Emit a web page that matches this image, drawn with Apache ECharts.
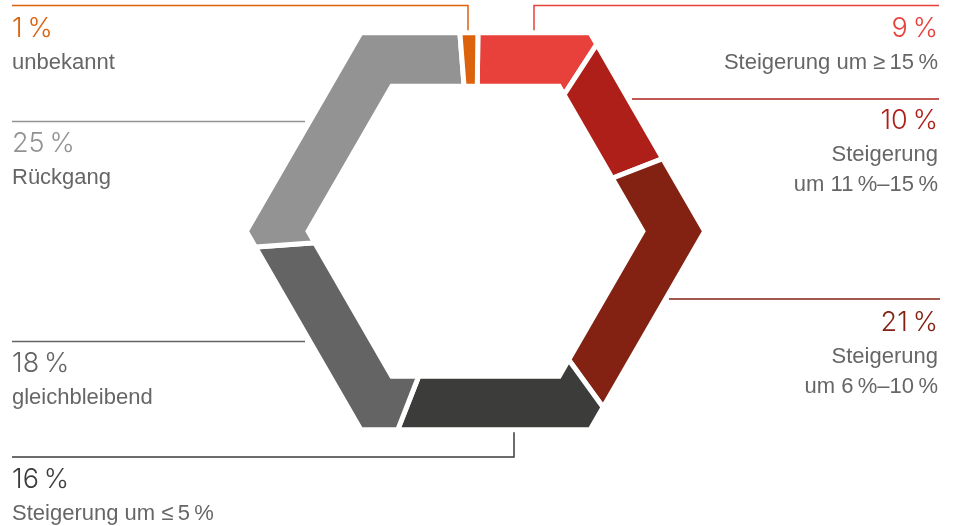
<!DOCTYPE html>
<html>
<head>
<meta charset="utf-8">
<script src="https://cdn.jsdelivr.net/npm/echarts@6/dist/echarts.min.js"></script>
<style>
  html, body { margin: 0; padding: 0; background: #fff; }
  #chart { width: 956px; height: 526px; }
</style>
</head>
<body>
<div id="chart"></div>
<script>
// clockwise from 12 o'clock
const categories = [
  'Steigerung um ≥\u200915\u2009%',
  'Steigerung\num 11\u2009%–15\u2009%',
  'Steigerung\num 6\u2009%–10\u2009%',
  'Steigerung um ≤\u20095\u2009%',
  'gleichbleibend',
  'Rückgang',
  'unbekannt'
]
const values = [9, 10, 21, 16, 18, 25, 1]
const colors = ['#e8403a', '#af1f1a', '#832213', '#3c3c3a', '#646464', '#939393', '#dc620e']

const center = [475.5, 231.3]
const outerR = 229.2
const innerR = 167.4
const gap = 5
const startAngle = 0.7 // degrees, clockwise from top
const minAngle = 5.2 // like pie minAngle, keeps the 1 % slice visible
const textGray = '#666'
const numFont = '300 27px Inter, "Liberation Sans", Arial, sans-serif'
const descFont = '22px "Liberation Sans", Arial, sans-serif'

// label placement for each slice (same order as categories)
const labelLayout = [
  { side: 'right', x: 938, numY: 29, line: [[939, 5.5], [534, 5.5], [534, 36]] },
  { side: 'right', x: 938, numY: 121, line: [[632, 99], [939, 99]] },
  { side: 'right', x: 938, numY: 322.7, line: [[669, 299], [940, 299]] },
  { side: 'left', x: 12, numY: 480, line: [[12, 457], [514, 457], [514, 428]] },
  { side: 'left', x: 12, numY: 363.7, line: [[12, 341.5], [305, 341.5]] },
  { side: 'left', x: 12, numY: 144, line: [[12, 121.5], [305, 121.5]] },
  { side: 'left', x: 12, numY: 29, line: [[12, 5.5], [468, 5.5], [468, 36]] }
]

// slice angles with a minimum angle, the rest shared out by value
const total = values.reduce((a, b) => a + b, 0)
const small = values.filter(v => (v / total) * 360 < minAngle)
const bigSum = values.filter(v => (v / total) * 360 >= minAngle).reduce((a, b) => a + b, 0)
const rest = 360 - small.length * minAngle
const sliceAngles = values.map(v => ((v / total) * 360 < minAngle ? minAngle : (v / bigSum) * rest))

// distance from centre to a flat-topped hexagon edge, theta in degrees clockwise from top
function hexDist(r, theta) {
  let t = (((theta - 30) % 60) + 60) % 60 - 30
  return (r * Math.cos(Math.PI / 6)) / Math.cos((t * Math.PI) / 180)
}
function hexPoint(r, theta) {
  const d = hexDist(r, theta)
  const a = (theta * Math.PI) / 180
  return [center[0] + d * Math.sin(a), center[1] - d * Math.cos(a)]
}
function ringPoints(r, a0, a1) {
  const pts = [hexPoint(r, a0)]
  let v = Math.ceil((a0 - 30) / 60) * 60 + 30
  if (v <= a0) v += 60
  while (v < a1) {
    pts.push(hexPoint(r, v))
    v += 60
  }
  pts.push(hexPoint(r, a1))
  return pts
}

function renderItem(params, api) {
  const i = params.dataIndex
  let a0 = startAngle
  for (let k = 0; k < i; k++) a0 += sliceAngles[k]
  const a1 = a0 + sliceAngles[i]
  const outer = ringPoints(outerR, a0, a1)
  const inner = ringPoints(innerR, a0, a1).reverse()
  return {
    type: 'polygon',
    shape: { points: outer.concat(inner) },
    style: { fill: colors[i], stroke: '#fff', lineWidth: gap, lineJoin: 'miter' }
  }
}

const graphics = []
labelLayout.forEach((l, i) => {
  const align = l.side === 'right' ? 'right' : 'left'
  graphics.push({
    type: 'polyline',
    shape: { points: l.line },
    style: { stroke: colors[i], lineWidth: 1.5, fill: null },
    silent: true
  })
  graphics.push({
    type: 'text',
    x: l.x,
    y: l.numY,
    style: {
      text: values[i] + '\u2009%',
      fill: colors[i],
      font: numFont,
      textAlign: align,
      textVerticalAlign: 'middle'
    }
  })
  graphics.push({
    type: 'text',
    x: l.x,
    y: l.numY + 19.5,
    style: {
      text: categories[i],
      fill: textGray,
      font: descFont,
      lineHeight: 29.5,
      textAlign: align,
      textVerticalAlign: 'top'
    }
  })
})

const chart = echarts.init(document.getElementById('chart'), null, { renderer: 'canvas' })
chart.setOption({
  animation: false,
  series: [
    {
      type: 'custom',
      coordinateSystem: 'none',
      renderItem: renderItem,
      silent: true,
      data: values
    }
  ],
  graphic: graphics
})
</script>
</body>
</html>
